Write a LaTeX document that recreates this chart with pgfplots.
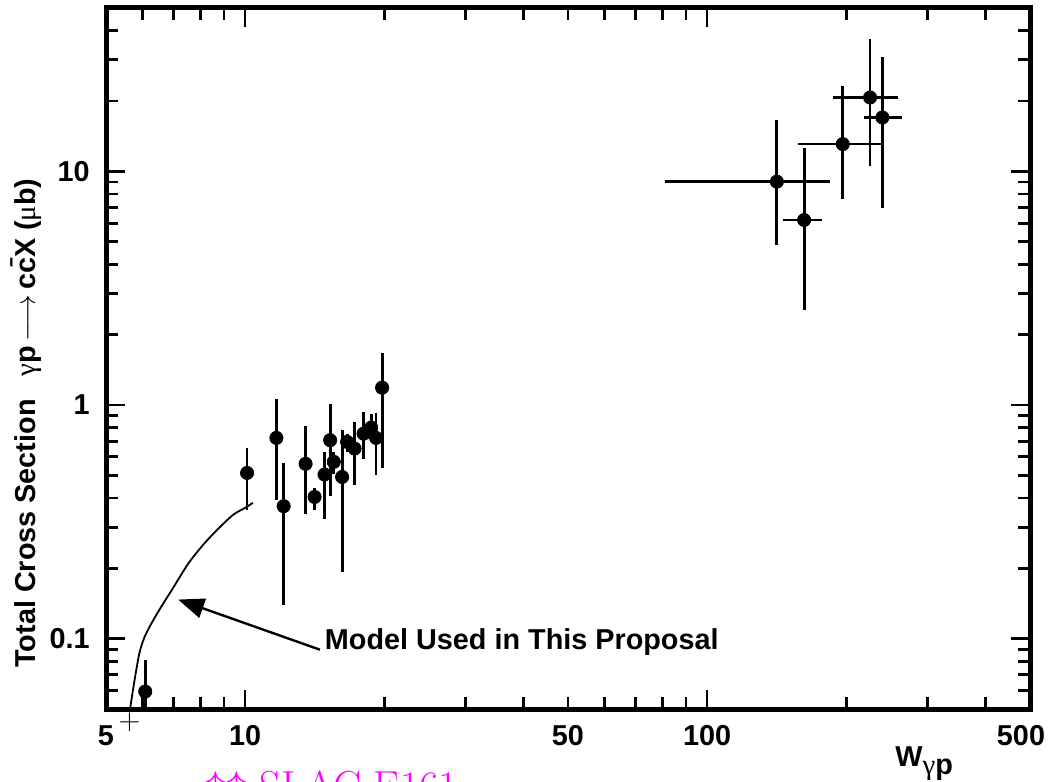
\documentclass[border=0pt]{standalone}
\usepackage{pgfplots}
\pgfplotsset{compat=1.18}
\usepackage{pgfplotstable}
\usepackage{fontspec}
\usetikzlibrary{arrows.meta}
\newfontfamily\hel{Liberation Sans}
\newfontfamily\sym{Liberation Serif}
\newcommand{\lbl}{\hel\fontsize{14.4}{17}\selectfont\bfseries}
\definecolor{notemag}{RGB}{255,0,255}

% charm photoproduction measurements: W, sigma, x errors (+/-), y errors (+/-)
\pgfplotstableread{
x      y       xp    xm    yp     ym
6.08   0.0594  0     0     0.0219 0.0194
10.1   0.512   0     0     0.143  0.156
11.69  0.723   0     0     0.341  0.331
12.12  0.369   0     0     0.198  0.230
13.52  0.560   0     0     0.251  0.217
14.14  0.404   0     0     0.039  0.049
14.86  0.504   0     0     0.126  0.179
15.28  0.707   0     0     0.306  0.300
15.56  0.571   0     0     0.059  0.062
16.22  0.492   0     0     0.292  0.299
16.63  0.695   0     0     0.059  0.065
17.26  0.651   0     0     0.195  0.197
18.05  0.754   0     0     0.179  0.164
18.75  0.800   0     0     0.118  0.105
19.21  0.723   0     0     0.204  0.219
19.80  1.186   0     0     0.487  0.651
141.6  9.03    42.8  60.5  7.57   4.17
162.2  6.19    15.4  16.5  6.35   3.65
196.7  13.08   42.1  39.5  10.12  5.47
225.3  20.7    34.1  38.2  16.3   10.2
239.6  17.0    24.5  20.5  13.9   10.03
}\xsecdata

\begin{document}
\begin{tikzpicture}
\begin{axis}[
  at={(0,0)}, anchor=south west,
  scale only axis, width=462pt, height=350.5pt,
  xmode=log, ymode=log,
  xmin=5, xmax=500, ymin=0.05, ymax=50,
  axis line style={line width=2.5pt},
  tick align=inside,
  major tick length=9.5pt, minor tick length=6pt,
  tick style={line width=1.4pt, black},
  xtick={10,100}, xticklabels={10,100},
  extra x ticks={5,50,500}, extra x tick labels={5,50,\hspace*{-9pt}500},
  extra x tick style={major tick length=6pt},
  minor xtick={6,7,8,9,20,30,40,60,70,80,90,200,300,400},
  ytick={0.1,1,10}, yticklabels={0.1,1,10},
  minor ytick={0.06,0.07,0.08,0.09,0.2,0.3,0.4,0.5,0.6,0.7,0.8,0.9,2,3,4,5,6,7,8,9,20,30,40},
  /pgf/number format/assume math mode=true,
  ticklabel style={font=\lbl},
  xticklabel style={anchor=base, inner sep=0pt, yshift=-18pt},
  yticklabel style={anchor=east, inner sep=0pt, xshift=-8pt},
]
% model curve
\addplot[line width=0.9pt, smooth, tension=0.5] coordinates {
  (5.617,0.0478) (5.758,0.0655) (5.903,0.0863) (6.052,0.1010) (6.266,0.1159)
  (6.586,0.1370) (6.990,0.1652) (7.531,0.2092) (8.116,0.2522) (8.745,0.2952)
  (9.421,0.3388) (10.0,0.3629) (10.40,0.3813)
};
% measurements
\addplot[only marks, mark=*, mark size=3.3pt, black,
  error bars/.cd, x dir=both, x explicit, y dir=both, y explicit,
  error mark=none, error bar style={line width=1.4pt}]
  table[x=x, y=y, x error plus=xp, x error minus=xm,
        y error plus=yp, y error minus=ym] {\xsecdata};
% annotation
\draw[line width=1.2pt, -{Triangle[length=13pt, width=10pt]}]
  (axis cs:14.52,0.0897) -- (axis cs:7.165,0.147);
\node[anchor=base west, inner sep=0pt, font=\lbl] at (axis cs:14.86,0.0895)
  {Model Used in This Proposal};
\end{axis}
% axis titles
\node[rotate=90, anchor=base west, inner sep=0pt, font=\lbl] at (-35.5pt,20.5pt)
  {Total Cross Section\hspace{0.8em}{\sym\mdseries γ}p\,$\longrightarrow$\,c\={c}X ({\sym\mdseries μ}b)};
\node[anchor=base west, inner sep=0pt, font=\lbl] at (394.5pt,-29pt)
  {W\raisebox{-4pt}{{\sym\mdseries γ}p}};
\node[inner sep=0pt, font=\fontsize{14}{16}\selectfont] at (11.75pt,-6.5pt) {$+$};
\node[anchor=base west, inner sep=0pt, text=notemag, font=\fontsize{21}{24}\selectfont]
  at (49.5pt,-46pt) {$\uparrow\uparrow$ SLAC E161};
\pgfresetboundingbox
\useasboundingbox (-53pt,-36.5pt) rectangle (472.5pt,354.5pt);
\end{tikzpicture}
\end{document}
